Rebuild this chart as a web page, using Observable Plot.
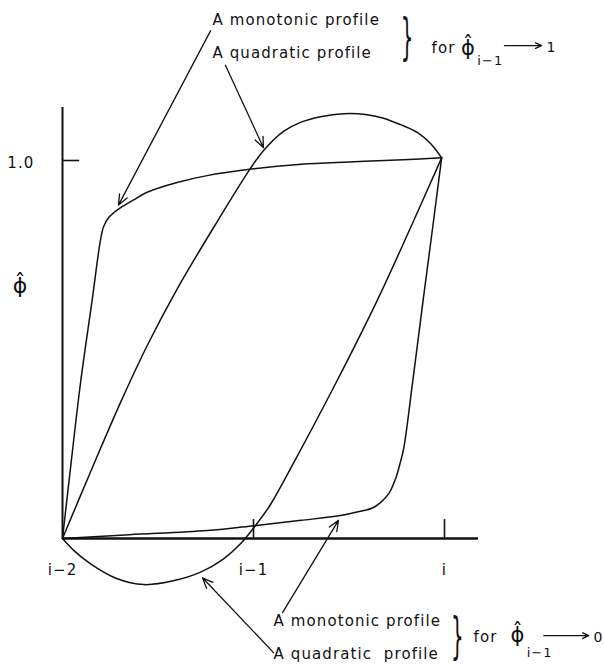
<!DOCTYPE html>
<html>
<head>
<meta charset="utf-8">
<script src="https://cdn.jsdelivr.net/npm/d3@7"></script>
<script src="https://cdn.jsdelivr.net/npm/@observablehq/plot@0.6"></script>
<style>
  html, body { margin: 0; padding: 0; background: #fff; }
</style>
</head>
<body>
<div id="chart"></div>
<script>
// Stencil nodes along the x axis (i-2 at 0, i-1 at 1, i at 2)
const nodeX = [0, 1, 2];
const nodeLabels = ["i\u22122", "i\u22121", "i"];
const nodeTicks = [1, 2];
const phiTicks = [1];
const phiTickLabels = ["1.0"];

// Profiles between i-2 and i for phi_{i-1} -> 1
const monoHighX = [0, 0.045, 0.094, 0.155, 0.199, 0.215, 0.24, 0.295, 0.37, 0.443, 0.6, 0.757, 1.0, 1.25, 1.5, 1.75, 1.985];
const monoHighY = [0, 0.2, 0.41, 0.63, 0.79, 0.825, 0.848, 0.872, 0.895, 0.916, 0.942, 0.96, 0.978, 0.99, 0.996, 1.001, 1.007];
const quadHighX = [0, 0.15, 0.304, 0.443, 0.6, 0.8, 0.984, 1.052, 1.157, 1.246, 1.351, 1.471, 1.586, 1.681, 1.77, 1.859, 1.927, 1.985];
const quadHighY = [0, 0.18, 0.36, 0.51, 0.66, 0.83, 0.979, 1.026, 1.077, 1.101, 1.116, 1.124, 1.122, 1.112, 1.095, 1.074, 1.045, 1.007];

// Profiles between i-2 and i for phi_{i-1} -> 0
const monoLowX = [0, 0.35, 0.757, 1.005, 1.25, 1.455, 1.56, 1.62, 1.665, 1.71, 1.745, 1.768, 1.787, 1.832, 1.888, 1.94, 1.985];
const monoLowY = [0, 0.01, 0.021, 0.034, 0.048, 0.061, 0.072, 0.08, 0.095, 0.12, 0.16, 0.2, 0.24, 0.409, 0.63, 0.83, 1.007];
const quadLowX = [0, 0.06, 0.147, 0.28, 0.426, 0.58, 0.723, 0.84, 0.932, 1.01, 1.089, 1.21, 1.43, 1.648, 1.822, 1.985];
const quadLowY = [0, -0.032, -0.067, -0.105, -0.122, -0.112, -0.089, -0.055, -0.014, 0.034, 0.09, 0.2, 0.41, 0.63, 0.822, 1.007];

// Callout texts
const calloutsHigh = ["A monotonic profile", "A quadratic profile"];
const calloutsLow = ["A monotonic profile", "A quadratic\u00a0 profile"];
const phiSymbol = "\u03d5\u0302";
const phiSub = "i\u22121";
const limitValues = ["1", "0"];

const ink = "#111";
const font = "DejaVu Sans";

const curve = (X, Y) => Plot.line(X, {
  x: X, y: Y, stroke: ink, strokeWidth: 1.5, curve: "catmull-rom"
});

// Pointer arrows from the callout texts to the curves
const pointers = [
  {x1: 0.775, y1: 1.343, x2: 0.293, y2: 0.882},
  {x1: 0.853, y1: 1.252, x2: 1.052, y2: 1.034},
  {x1: 1.152, y1: -0.196, x2: 1.445, y2: 0.048},
  {x1: 1.105, y1: -0.302, x2: 0.733, y2: -0.104}
];
// Small arrows in "phi_{i-1} -> 1" and "phi_{i-1} -> 0"
const limitArrows = [
  {x1: 2.314, y1: 1.304, x2: 2.508, y2: 1.304},
  {x1: 2.52, y1: -0.257, x2: 2.755, y2: -0.257}
];

const textOpts = {fill: ink, fontFamily: font, fontSize: 15, textAnchor: "start", lineAnchor: "middle"};

const plot = Plot.plot({
  width: 604,
  height: 664,
  marginTop: 0, marginRight: 0, marginBottom: 0, marginLeft: 0,
  x: {domain: [0, 2], range: [62, 444], axis: null},
  y: {domain: [0, 1], range: [538, 160], axis: null},
  style: {background: "#fff", color: ink, letterSpacing: "1.1px", overflow: "visible"},
  marks: [
    // axes
    Plot.ruleX([0], {y1: 0, y2: 1.14, stroke: ink, strokeWidth: 2}),
    Plot.ruleY([0], {x1: 0, x2: 2.178, stroke: ink, strokeWidth: 2.3}),
    Plot.ruleY(phiTicks, {x1: 0, x2: 0.09, stroke: ink, strokeWidth: 1.6}),
    Plot.ruleX(nodeTicks, {y1: 0, y2: 0.05, stroke: ink, strokeWidth: 1.6}),
    Plot.text(nodeLabels, {x: nodeX, y: 0, dy: 32, fill: ink, fontFamily: font, fontSize: 15, textAnchor: "middle"}),
    Plot.text(phiTickLabels, {x: 0, y: phiTicks, dx: -28, dy: 3, fill: ink, fontFamily: font, fontSize: 15, textAnchor: "end"}),
    Plot.text([phiSymbol], {x: 0, y: 0.667, dx: -42, fill: ink, fontFamily: font, fontSize: 22, textAnchor: "middle"}),

    // profiles
    curve(monoHighX, monoHighY),
    curve(quadHighX, quadHighY),
    curve(monoLowX, monoLowY),
    curve(quadLowX, quadLowY),

    // callouts
    Plot.arrow(pointers, {x1: "x1", y1: "y1", x2: "x2", y2: "y2", stroke: ink, strokeWidth: 1.3, headLength: 13, headAngle: 45}),
    Plot.text(calloutsHigh, {...textOpts, x: 0.785, y: [1.370, 1.283]}),
    Plot.text(calloutsLow, {...textOpts, x: 1.105, y: [-0.220, -0.307]}),
    Plot.text(["}", "}"], {x: [1.806, 2.068], y: [1.283, -0.302], fill: ink, fontFamily: font, fontSize: 50, textAnchor: "middle", lineAnchor: "middle"}),
    Plot.text(["for", "for"], {...textOpts, x: [1.932, 2.152], y: [1.296, -0.262]}),
    Plot.text([phiSymbol, phiSymbol], {...textOpts, fontSize: 21, textAnchor: "middle", x: [2.126, 2.385], y: [1.298, -0.256]}),
    Plot.text([phiSub, phiSub], {...textOpts, fontSize: 13, x: [2.172, 2.43], y: [1.264, -0.302]}),
    Plot.arrow(limitArrows, {x1: "x1", y1: "y1", x2: "x2", y2: "y2", stroke: ink, strokeWidth: 1.4, headLength: 7, headAngle: 50}),
    Plot.text(limitValues, {...textOpts, fontSize: 14, x: [2.534, 2.78], y: [1.298, -0.262]})
  ]
});

// narrow the braces horizontally so they read as tall thin brackets
d3.select(plot).selectAll("text").filter(function () { return this.textContent === "}"; }).each(function () {
  const el = this;
  let t = el.getAttribute("transform") || "";
  if (el.hasAttribute("x") || el.hasAttribute("y")) {
    const x = +el.getAttribute("x") || 0, y = +el.getAttribute("y") || 0;
    el.removeAttribute("x"); el.removeAttribute("y");
    t = `${t} translate(${x},${y})`;
  }
  el.setAttribute("transform", `${t} scale(0.4,1)`);
});

document.getElementById("chart").append(plot);
</script>
</body>
</html>
